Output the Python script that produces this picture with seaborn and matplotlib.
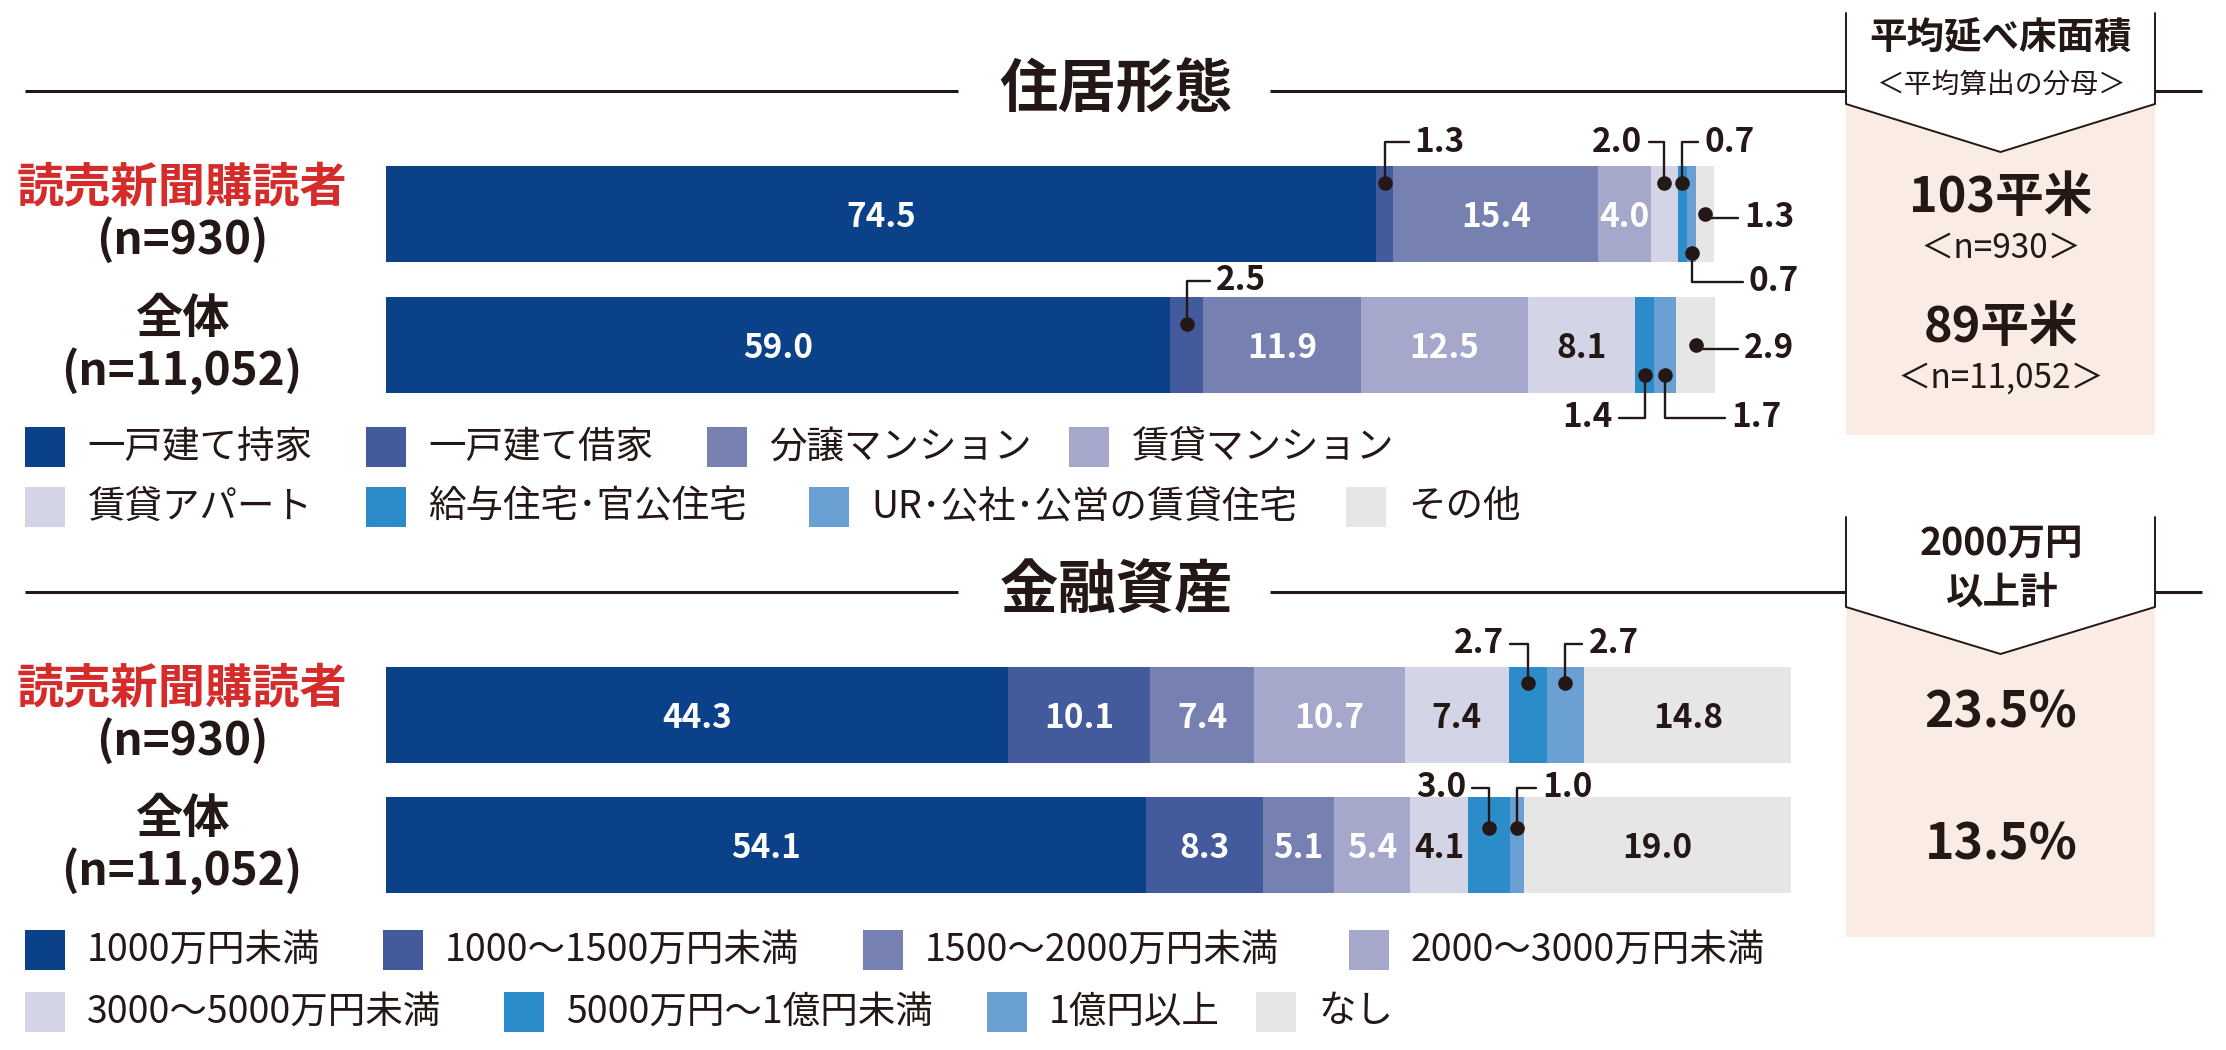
import matplotlib
matplotlib.use("Agg")
import matplotlib.pyplot as plt
from matplotlib.patches import Rectangle, Polygon
import seaborn as sns
import pandas as pd
import numpy as np

sns.set_theme(style="white")
plt.rcParams['font.family'] = ['Noto Sans CJK JP', 'DejaVu Sans']

# ---- data ----
groups = ["読売新聞購読者", "全体"]
n_labels = ["(n=930)", "(n=11,052)"]

housing_cats = ["一戸建て持家", "一戸建て借家", "分譲マンション", "賃貸マンション",
                "賃貸アパート", "給与住宅･官公住宅", "UR･公社･公営の賃貸住宅", "その他"]
housing_reader = [74.5, 1.3, 15.4, 4.0, 2.0, 0.7, 0.7, 1.3]
housing_total = [59.0, 2.5, 11.9, 12.5, 8.1, 1.4, 1.7, 2.9]

asset_cats = ["1000万円未満", "1000～1500万円未満", "1500～2000万円未満", "2000～3000万円未満",
              "3000～5000万円未満", "5000万円～1億円未満", "1億円以上", "なし"]
asset_reader = [44.3, 10.1, 7.4, 10.7, 7.4, 2.7, 2.7, 14.8]
asset_total = [54.1, 8.3, 5.1, 5.4, 4.1, 3.0, 1.0, 19.0]

floor_area = ["103平米", "89平米"]
floor_n = ["＜n=930＞", "＜n=11,052＞"]
over_2000 = ["23.5%", "13.5%"]

# ---- style ----
INK = "#231815"
RED = "#d52b2a"
PEACH = "#faece5"
colors = ["#0b4189", "#435b9c", "#7681b1", "#a5a8ca",
          "#d3d4e6", "#2c8cc9", "#6aa0d3", "#e6e6e6"]
label_colors = ["white", "white", "white", "white", INK, INK, INK, INK]

W, H = 2226, 1050

# leader specs: (row, category) -> (dot offset in data y, text dx px, text dy px, ha)
housing_leaders = {
    (0, 1): (-0.237, 30, 44, "left"),
    (0, 4): (-0.237, -22, 44, "right"),
    (0, 5): (-0.237, 22, 44, "left"),
    (0, 6): (0.30, 57, -25, "left"),
    (0, 7): (0.0, 39, 0, "left"),
    (1, 1): (-0.16, 29, 47, "left"),
    (1, 5): (0.23, -32, -39, "right"),
    (1, 6): (0.23, 66, -39, "left"),
    (1, 7): (0.0, 48, 0, "left"),
}
asset_leaders = {
    (0, 5): (-0.246, -24, 43, "right"),
    (0, 6): (-0.246, 23, 43, "left"),
    (1, 5): (-0.13, -23, 44, "right"),
    (1, 6): (-0.13, 25, 44, "left"),
}

fig = plt.figure(figsize=(W / 100, H / 100), dpi=100)
fig.patch.set_facecolor("white")

# overlay in pixel coordinates for frame decorations
ax0 = fig.add_axes([0, 0, 1, 1])
ax0.set_xlim(0, W)
ax0.set_ylim(H, 0)
ax0.axis("off")


def draw_section(left, right, centers, cats, rows, leaders):
    spacing = centers[1] - centers[0]
    top_px = centers[0] - spacing / 2
    bot_px = centers[1] + spacing / 2
    ax = fig.add_axes([left / W, 1 - bot_px / H, (right - left) / W, (bot_px - top_px) / H])

    recs = []
    for g, vals in zip(groups, rows):
        ends = np.cumsum(vals)
        for k, (v, e) in enumerate(zip(vals, ends)):
            recs.append({"group": g, "k": k, "value": v, "end": e})
    df = pd.DataFrame(recs)

    # stacked bars: draw cumulative totals from longest to shortest
    for k in reversed(range(len(cats))):
        sns.barplot(data=df[df["k"] == k], x="end", y="group", order=groups, orient="h",
                    color=colors[k], saturation=1, width=96 / spacing, errorbar=None,
                    linewidth=0, ax=ax)
    ax.set_xlim(0, 100)
    ax.set_ylim(1.5, -0.5)
    ax.axis("off")

    for r, vals in enumerate(rows):
        ends = np.cumsum(vals)
        for k, (v, e) in enumerate(zip(vals, ends)):
            c = e - v / 2
            if v >= 4:
                ax.text(c, r, f"{v:.1f}", ha="center", va="center_baseline", fontsize=24,
                        weight="bold", color=label_colors[k])
            elif (r, k) in leaders:
                ddy, dx, dy, ha = leaders[(r, k)]
                yd = r + ddy
                ax.plot([c], [yd], "o", color=INK, ms=9.5, zorder=6, clip_on=False)
                ax.annotate(f"{v:.1f}", xy=(c, yd), xytext=(dx, dy), textcoords="offset pixels",
                            ha=ha, va="center_baseline", fontsize=24, weight="bold", color=INK,
                            arrowprops=dict(arrowstyle="-", color=INK, lw=1.7, shrinkA=2, shrinkB=0,
                                            connectionstyle="angle,angleA=0,angleB=90,rad=0"))

    # row labels
    for r, c in enumerate(centers):
        ax0.text(182, c - 26, groups[r], ha="center", va="center", fontsize=34,
                 weight="bold", color=RED if r == 0 else INK)
        ax0.text(182, c + 26, n_labels[r], ha="center", va="center", fontsize=33,
                 weight="bold", color=INK)
    return ax


def draw_header(y, title):
    for x0, x1 in [(25, 958), (1270, 1846), (2155, 2202)]:
        ax0.plot([x0, x1], [y, y], color=INK, lw=2.2, solid_capstyle="butt")
    ax0.text(1116, y, title, ha="center", va="center", fontsize=42, weight="bold", color=INK)


def draw_box(top, side, point, bottom):
    xl, xr = 1846, 2155
    xm = (xl + xr) / 2
    ax0.add_patch(Rectangle((xl, top), xr - xl, bottom - top, facecolor=PEACH, edgecolor="none"))
    ax0.add_patch(Polygon([(xl, top), (xr, top), (xr, side), (xm, point), (xl, side)],
                          closed=True, facecolor="white", edgecolor="none"))
    ax0.plot([xl, xl, xm, xr, xr], [top, side, point, side, top], color=INK, lw=1.4)


def draw_legend(rows_spec, cats):
    for y, items in rows_spec:
        for k, x in items:
            ax0.add_patch(Rectangle((x, y - 20), 40, 40, facecolor=colors[k], edgecolor="none"))
            ax0.text(x + 62, y, cats[k], ha="left", va="center", fontsize=27, color=INK)


# ---- housing section ----
draw_header(91, "住居形態")
draw_box(13, 104, 152, 435)
draw_section(386, 1715, (214, 345), housing_cats, [housing_reader, housing_total], housing_leaders)
draw_legend([(447, [(0, 25), (1, 366), (2, 707), (3, 1069)]),
             (507, [(4, 25), (5, 366), (6, 809), (7, 1346)])], housing_cats)
ax0.text(2001, 38, "平均延べ床面積", ha="center", va="center", fontsize=27, weight="bold", color=INK)
ax0.text(2001, 85, "＜平均算出の分母＞", ha="center", va="center", fontsize=20, color=INK)
for i, (a, n) in enumerate(zip(floor_area, floor_n)):
    ax0.text(2001, 198 + 130 * i, a, ha="center", va="center", fontsize=35, weight="bold", color=INK)
    ax0.text(2001, 248 + 130 * i, n, ha="center", va="center", fontsize=24, color=INK)

# ---- assets section ----
draw_header(592, "金融資産")
draw_box(517, 607, 654, 937)
draw_section(386, 1791, (715, 845), asset_cats, [asset_reader, asset_total], asset_leaders)
draw_legend([(950, [(0, 25), (1, 383), (2, 863), (3, 1349)]),
             (1012, [(4, 25), (5, 504), (6, 987), (7, 1256)])], asset_cats)
ax0.text(2001, 543, "2000万円", ha="center", va="center", fontsize=27, weight="bold", color=INK)
ax0.text(2001, 592, "以上計", ha="center", va="center", fontsize=27, weight="bold", color=INK)
for i, s in enumerate(over_2000):
    ax0.text(2001, 713 + 132 * i, s, ha="center", va="center", fontsize=36, weight="bold", color=INK)

fig.savefig("out.png", dpi=100, facecolor="white")
